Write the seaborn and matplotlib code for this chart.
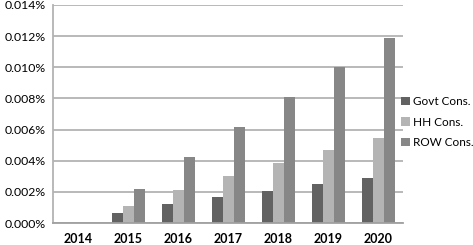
import pandas as pd
import numpy as np
import matplotlib.pyplot as plt
import matplotlib.ticker as mticker
import seaborn as sns

# --- data (values in percent) ---
years = ["2014", "2015", "2016", "2017", "2018", "2019", "2020"]
govt_cons = [0.0, 0.00066, 0.00120, 0.00165, 0.00207, 0.00250, 0.00290]
hh_cons = [0.0, 0.00111, 0.00210, 0.00300, 0.00385, 0.00468, 0.00546]
row_cons = [0.0, 0.00216, 0.00423, 0.00615, 0.00810, 0.01000, 0.01188]
series_names = ["Govt Cons.", "HH Cons.", "ROW Cons."]
colors = ["#626262", "#b4b4b4", "#878787"]

df = pd.DataFrame({
    "year": years * 3,
    "value": govt_cons + hh_cons + row_cons,
    "series": [s for s in series_names for _ in years],
})

sns.set_style("white")
plt.rcParams["font.family"] = ["Lato", "DejaVu Sans"]
plt.rcParams["text.color"] = "black"

fig = plt.figure(figsize=(4.73, 2.45), dpi=100)
ax = fig.add_axes([53 / 473, 22 / 245, 350 / 473, 218 / 245])

sns.barplot(data=df, x="year", y="value", hue="series", palette=colors,
            width=0.66, gap=0, saturation=1, ax=ax, linewidth=0)

ax.set_ylim(0, 0.014)
ax.set_xlim(-0.5, len(years) - 0.5)
ax.yaxis.set_major_locator(mticker.MultipleLocator(0.002))
ax.yaxis.set_major_formatter(mticker.FuncFormatter(lambda v, p: f"{v:.3f}%"))
ax.grid(axis="y", color="#b3b3b3", linewidth=1.3)
ax.set_axisbelow(True)

# category boundary ticks on x axis
ax.set_xticks(np.arange(-0.5, len(years)), minor=True)
ax.tick_params(axis="x", which="minor", length=5, width=1, color="#a0a0a0", direction="out")
ax.tick_params(axis="x", which="major", length=0, pad=7, labelsize=9, labelcolor="black")
ax.tick_params(axis="y", length=0, pad=5, labelsize=8.8, labelcolor="black")
for lbl in ax.get_xticklabels():
    lbl.set_fontweight("bold")

for side in ["top", "right"]:
    ax.spines[side].set_visible(False)
ax.spines["left"].set_color("#b3b3b3")
ax.spines["left"].set_linewidth(1.3)
ax.spines["bottom"].set_color("#a0a0a0")
ax.spines["bottom"].set_linewidth(1.3)

ax.set_xlabel("")
ax.set_ylabel("")

leg = ax.legend(loc="center left", bbox_to_anchor=(0.995, 0.463), frameon=False,
                handlelength=0.7, handleheight=0.7, handletextpad=0.3,
                labelspacing=0.8, fontsize=8.5, borderaxespad=0, borderpad=0)
for t in leg.get_texts():
    t.set_color("black")

fig.savefig("out.png", dpi=100)
